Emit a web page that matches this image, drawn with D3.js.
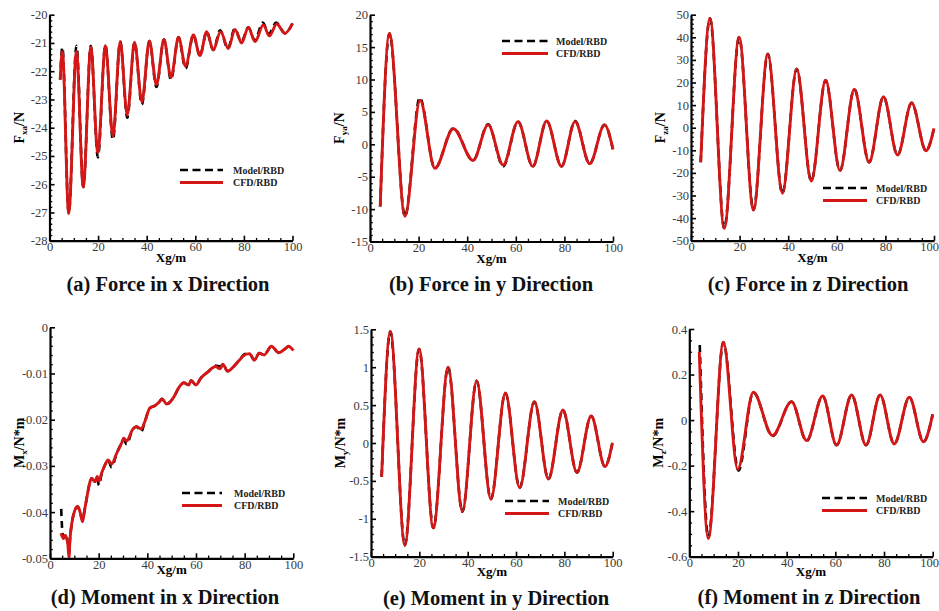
<!DOCTYPE html>
<html>
<head>
<meta charset="utf-8">
<script src="https://cdn.jsdelivr.net/npm/d3@7"></script>
<style>
  html, body { margin: 0; padding: 0; background: #fff; }
  svg { display: block; }
  text { font-family: "Liberation Serif", "Times New Roman", serif; }
</style>
</head>
<body>
<svg id="chart" width="939" height="611"></svg>
<script>
// ---- data: [Xg, value] samples for each panel ----
const xTicks = [0, 20, 40, 60, 80, 100];
const xMinor = [5, 10, 15, 25, 30, 35, 45, 50, 55, 65, 70, 75, 85, 90, 95];

// (a) Force in x direction
const fxTicks = [-28, -27, -26, -25, -24, -23, -22, -21, -20];
const fxCfd = [[4.4,-22.3],[5.3,-21.3],[7.9,-27.03],[11.1,-21.3],[13.9,-26.1],[17.0,-21.15],[19.9,-24.88],
  [23.0,-21.1],[26.1,-24.3],[29.1,-20.95],[32.0,-23.55],[35.0,-20.97],[38.0,-23.08],[41.1,-20.93],[44.0,-22.48],
  [47.1,-20.88],[50.0,-22.22],[53.1,-20.8],[56.0,-21.82],[59.2,-20.72],[61.9,-21.45],[64.7,-20.6],[67.4,-21.25],
  [70.4,-20.6],[73.6,-21.2],[76.3,-20.52],[79.1,-21.0],[81.8,-20.45],[84.6,-20.95],[88.0,-20.36],[90.5,-20.75],
  [93.5,-20.33],[96.9,-20.66],[100,-20.31]];
const fxModel = [[4.4,-22.3],[5.3,-21.15],[7.9,-27.03],[11.1,-21.1],[13.9,-26.1],[17.0,-21.1],[19.9,-25.05],
  [23.0,-21.08],[26.1,-24.42],[29.1,-20.95],[32.0,-23.65],[35.0,-20.97],[38.0,-23.18],[41.1,-20.93],[44.0,-22.56],
  [47.1,-20.88],[50.0,-22.3],[53.1,-20.8],[56.0,-21.9],[59.2,-20.72],[61.9,-21.45],[64.7,-20.6],[67.4,-21.25],
  [70.2,-20.55],[73.4,-21.2],[76.2,-20.5],[79.0,-20.95],[81.8,-20.45],[84.5,-20.9],[87.8,-20.28],[90.2,-20.68],
  [93.3,-20.28],[96.9,-20.66],[100,-20.31]];

// (b) Force in y direction
const fyTicks = [-15, -10, -5, 0, 5, 10, 15, 20];
const fyCfd = [[4.2,-9.6],[8.0,17.1],[14.4,-11.1],[20.6,6.8],[26.7,-3.7],[34.3,2.4],[42.4,-2.5],[48.6,3.0],
  [54.8,-3.2],[60.9,3.5],[67.0,-3.4],[72.7,3.6],[78.8,-3.4],[84.4,3.5],[90.4,-3.0],[96.5,3.0],[100,-0.8]];
const fyModel = [[4.2,-9.6],[8.0,17.1],[14.4,-11.1],[20.5,7.2],[26.7,-3.7],[34.3,2.5],[42.4,-2.5],[48.6,3.1],
  [54.8,-3.4],[60.9,3.5],[67.0,-3.4],[72.7,3.6],[78.8,-3.4],[84.4,3.6],[90.4,-3.0],[96.5,3.0],[100,-0.8]];

// (c) Force in z direction
const fzTicks = [-50, -40, -30, -20, -10, 0, 10, 20, 30, 40, 50];
const fzCfd = [[4.0,-15.3],[7.8,48.4],[13.7,-44.5],[19.8,40.0],[25.7,-36.4],[31.6,32.6],[37.6,-29.0],
  [43.5,26.0],[49.5,-23.6],[55.4,21.0],[61.3,-19.0],[67.2,17.0],[73.3,-15.3],[79.2,13.7],[85.0,-12.1],
  [90.8,11.0],[96.7,-10.2],[100,-0.3]];
const fzModel = fzCfd;

// (d) Moment in x direction
const mxTicks = [-0.05, -0.04, -0.03, -0.02, -0.01, 0];
const mxCfd = [[4.5,-0.0446],[5.5,-0.0457],[6.2,-0.045],[7.3,-0.0468],[7.8,-0.0498],[8.2,-0.046],[9.2,-0.0417],
  [10.3,-0.0395],[11.4,-0.0388],[12.3,-0.0399],[13.4,-0.0421],[14.1,-0.0399],[15.1,-0.037],[15.7,-0.0352],
  [17.1,-0.0327],[18.5,-0.0334],[19.4,-0.0323],[20.1,-0.0333],[21.2,-0.0316],[22.6,-0.0298],[23.9,-0.0287],
  [25.3,-0.0296],[27.4,-0.0273],[29.4,-0.0251],[30.3,-0.024],[31.5,-0.0246],[34.0,-0.0221],[35.5,-0.0215],
  [37.5,-0.022],[39.0,-0.0204],[41.0,-0.0175],[43.0,-0.017],[45.0,-0.0161],[46.0,-0.0155],[48.0,-0.0166],
  [51.0,-0.015],[53.0,-0.013],[55.0,-0.012],[57.0,-0.0125],[58.0,-0.0115],[60.0,-0.0125],[62.0,-0.011],
  [65.0,-0.0096],[68.0,-0.0085],[70.0,-0.009],[71.0,-0.008],[73.0,-0.0095],[76.0,-0.0082],[78.0,-0.007],
  [80.0,-0.006],[82.0,-0.0057],[84.0,-0.0071],[86.0,-0.0056],[88.0,-0.006],[91.0,-0.0041],[94.0,-0.0055],
  [97.0,-0.0045],[98.0,-0.0041],[100,-0.005]];
const mxModel = [[4.6,-0.0393],[5.1,-0.0445],[5.5,-0.0457],[6.2,-0.045],[7.3,-0.0466],[7.8,-0.0488],[8.2,-0.046],
  [9.2,-0.0417],[10.3,-0.0395],[11.4,-0.0388],[12.3,-0.0399],[13.4,-0.0418],[14.1,-0.0399],[15.1,-0.037],
  [15.7,-0.0352],[17.1,-0.0327],[18.5,-0.0334],[19.4,-0.0325],[20.1,-0.0342],[21.2,-0.0318],[22.6,-0.0298],
  [23.9,-0.0287],[25.3,-0.0303],[27.4,-0.0273],[29.4,-0.0251],[30.3,-0.0243],[31.5,-0.0253],[34.0,-0.0221],
  [35.5,-0.0215],[37.5,-0.0226],[39.0,-0.0204],[41.0,-0.0175],[43.0,-0.017],[45.0,-0.0161],[46.0,-0.0155],
  [48.0,-0.0166],[51.0,-0.015],[53.0,-0.013],[55.0,-0.012],[57.0,-0.0125],[58.0,-0.0115],[60.0,-0.0125],
  [62.0,-0.011],[65.0,-0.0096],[68.0,-0.0083],[70.0,-0.0085],[71.0,-0.008],[73.0,-0.0095],[76.0,-0.0082],
  [78.0,-0.007],[80.0,-0.0058],[82.0,-0.0057],[84.0,-0.0071],[86.0,-0.0056],[88.0,-0.006],[91.0,-0.0041],
  [94.0,-0.0055],[97.0,-0.0045],[98.0,-0.0041],[100,-0.005]];

// (e) Moment in y direction
const myTicks = [-1.5, -1, -0.5, 0, 0.5, 1, 1.5];
const myCfd = [[4.4,-0.445],[8.0,1.47],[14.0,-1.35],[19.9,1.24],[25.8,-1.12],[31.9,1.0],[37.8,-0.905],
  [43.7,0.82],[49.6,-0.74],[55.6,0.66],[61.5,-0.59],[67.6,0.545],[73.4,-0.475],[79.4,0.435],[85.2,-0.39],
  [91.1,0.356],[96.8,-0.31],[99.9,0.004]];
const myModel = myCfd;

// (f) Moment in z direction
const mzTicks = [-0.6, -0.4, -0.2, 0, 0.2, 0.4];
const mzCfd = [[4.1,0.30],[7.8,-0.52],[14.0,0.342],[19.9,-0.216],[26.3,0.122],[34.2,-0.068],[42.0,0.081],
  [48.2,-0.09],[54.8,0.106],[60.5,-0.11],[66.7,0.11],[72.6,-0.11],[78.4,0.11],[84.2,-0.105],[90.4,0.1],
  [96.2,-0.095],[100,0.025]];
const mzModel = [[4.3,0.33],[7.8,-0.515],[14.0,0.342],[20.2,-0.222],[26.3,0.122],[34.2,-0.07],[42.0,0.081],
  [48.2,-0.092],[54.8,0.106],[60.5,-0.11],[66.7,0.11],[72.6,-0.11],[78.4,0.11],[84.2,-0.105],[90.4,0.1],
  [96.2,-0.095],[100,0.025]];

// ---- panels ----
const panels = [
  { cfd: fxCfd, model: fxModel, ticks: fxTicks, minorStep: 0.2, fmt: d => String(d),
    ylab: ["F", "xa", "/N"], title: "(a) Force in x Direction",
    box: { l: 49.5, r: 292.5, t: 14.7, b: 240.7 }, titleX: 168, titleY: 291, xlabY: 262,
    leg: { x1: 180, x2: 223, y: 170, tx: 233 } },
  { cfd: fyCfd, model: fyModel, ticks: fyTicks, minorStep: 1, fmt: d => String(d),
    ylab: ["F", "ya", "/N"], title: "(b) Force in y Direction",
    box: { l: 370, r: 613, t: 14.7, b: 241.5 }, titleX: 491, titleY: 291, xlabY: 263,
    leg: { x1: 502, x2: 548, y: 41, tx: 556 } },
  { cfd: fzCfd, model: fzModel, ticks: fzTicks, minorStep: 2, fmt: d => String(d),
    ylab: ["F", "za", "/N"], title: "(c) Force in z Direction",
    box: { l: 691, r: 934, t: 14.7, b: 240.7 }, titleX: 808, titleY: 291, xlabY: 262,
    leg: { x1: 823, x2: 867, y: 188, tx: 876 } },
  { cfd: mxCfd, model: mxModel, ticks: mxTicks, minorStep: 0.002, fmt: d => String(d),
    ylab: ["M", "x", "/N*m"], title: "(d) Moment in x Direction",
    box: { l: 50, r: 293.3, t: 327.3, b: 558.3 }, titleX: 165, titleY: 604, xlabY: 574,
    leg: { x1: 182, x2: 222, y: 493, tx: 234 } },
  { cfd: myCfd, model: myModel, ticks: myTicks, minorStep: 0.1, fmt: d => String(d),
    ylab: ["M", "y", "/N*m"], title: "(e) Moment in y Direction",
    box: { l: 371, r: 612.7, t: 329.3, b: 556.7 }, titleX: 496, titleY: 605, xlabY: 576,
    leg: { x1: 505, x2: 549, y: 501, tx: 558 } },
  { cfd: mzCfd, model: mzModel, ticks: mzTicks, minorStep: 0.05, fmt: d => String(d),
    ylab: ["M", "z", "/N*m"], title: "(f) Moment in z Direction",
    box: { l: 689.3, r: 932.7, t: 329, b: 556.7 }, titleX: 809, titleY: 604, xlabY: 576,
    leg: { x1: 822, x2: 867, y: 498, tx: 876 } }
];

const RED = "#d41616";
const W = 939;
const svg = d3.select("#chart");

panels.forEach(p => {
  const { l, r, t, b } = p.box;
  const x = d3.scaleLinear().domain([0, 100]).range([l, r]);
  const lo = d3.min(p.ticks), hi = d3.max(p.ticks);
  const y = d3.scaleLinear().domain([lo, hi]).range([b, t]);
  const g = svg.append("g");

  // minor tick positions between the labelled ticks
  const nMinor = Math.round((hi - lo) / p.minorStep);
  const yMinor = d3.range(nMinor + 1).map(i => lo + i * p.minorStep)
    .filter(v => !p.ticks.some(tk => Math.abs(tk - v) < p.minorStep * 1e-3));

  // curves: model first (dashed black), CFD on top (solid red)
  const line = d3.line().x(d => x(d[0])).y(d => y(d[1])).curve(d3.curveMonotoneX);
  g.append("path").attr("d", line(p.model)).attr("fill", "none")
    .attr("stroke", "#000").attr("stroke-width", 2.6).attr("stroke-dasharray", "7,5");
  g.append("path").attr("d", line(p.cfd)).attr("fill", "none")
    .attr("stroke", RED).attr("stroke-width", 2.9).attr("stroke-linejoin", "round");

  // axes with inward ticks
  const styleAxis = sel => {
    sel.select(".domain").attr("stroke", "#000").attr("stroke-width", 2.2);
    sel.selectAll(".tick line").attr("stroke", "#000").attr("stroke-width", 1.6);
    sel.selectAll(".tick text").attr("font-family", "'Liberation Serif', serif")
      .attr("font-size", 12.5).attr("fill", "#3a3a3a");
  };
  const minorStyle = s => {
    s.select(".domain").remove();
    s.selectAll(".tick line").attr("stroke", "#000").attr("stroke-width", 1.3);
  };
  g.append("g").attr("transform", `translate(0,${b})`)
    .call(d3.axisBottom(x).tickValues(xMinor).tickSizeInner(-2.8).tickSizeOuter(0).tickFormat(""))
    .call(minorStyle);
  g.append("g").attr("transform", `translate(${l},0)`)
    .call(d3.axisLeft(y).tickValues(yMinor).tickSizeInner(-2.8).tickSizeOuter(0).tickFormat(""))
    .call(minorStyle);
  const xAxisG = g.append("g").attr("transform", `translate(0,${b})`)
    .call(d3.axisBottom(x).tickValues(xTicks).tickSizeInner(-5).tickSizeOuter(0).tickPadding(1.5).tickFormat(d => String(d)))
    .call(styleAxis);
  // keep the last x label inside the page when the axis reaches the right edge
  xAxisG.selectAll(".tick text").each(function (d) {
    const half = this.getComputedTextLength() / 2;
    const over = x(d) + half - (W - 0.5);
    if (over > 0) d3.select(this).attr("x", -over);
  });
  g.append("g").attr("transform", `translate(${l},0)`)
    .call(d3.axisLeft(y).tickValues(p.ticks).tickSizeInner(-5).tickSizeOuter(0).tickPadding(2).tickFormat(p.fmt))
    .call(styleAxis);

  // axis titles
  g.append("text").attr("x", (l + r) / 2).attr("y", p.xlabY).attr("text-anchor", "middle")
    .attr("font-weight", "bold").attr("font-size", 13).text("Xg/m");
  const yl = g.append("text")
    .attr("transform", `translate(${l - 26},${(t + b) / 2}) rotate(-90)`)
    .attr("text-anchor", "middle").attr("font-weight", "bold").attr("font-size", 14);
  yl.append("tspan").text(p.ylab[0]);
  yl.append("tspan").attr("font-size", 9).attr("dy", 3).text(p.ylab[1]);
  yl.append("tspan").attr("dy", -3).text(p.ylab[2]);

  // legend
  const lg = p.leg;
  g.append("line").attr("x1", lg.x1).attr("x2", lg.x2).attr("y1", lg.y).attr("y2", lg.y)
    .attr("stroke", "#000").attr("stroke-width", 2.6).attr("stroke-dasharray", "8,4.5");
  g.append("line").attr("x1", lg.x1).attr("x2", lg.x2).attr("y1", lg.y + 12.5).attr("y2", lg.y + 12.5)
    .attr("stroke", RED).attr("stroke-width", 2.9);
  g.append("text").attr("x", lg.tx).attr("y", lg.y + 3.5).attr("font-size", 10).attr("font-weight", "bold")
    .attr("fill", "#222").text("Model/RBD");
  g.append("text").attr("x", lg.tx).attr("y", lg.y + 16).attr("font-size", 10).attr("font-weight", "bold")
    .attr("fill", "#222").text("CFD/RBD");

  // caption
  g.append("text").attr("x", p.titleX).attr("y", p.titleY).attr("text-anchor", "middle")
    .attr("font-weight", "bold").attr("font-size", 20.5).attr("fill", "#111").text(p.title);
});
</script>
</body>
</html>
